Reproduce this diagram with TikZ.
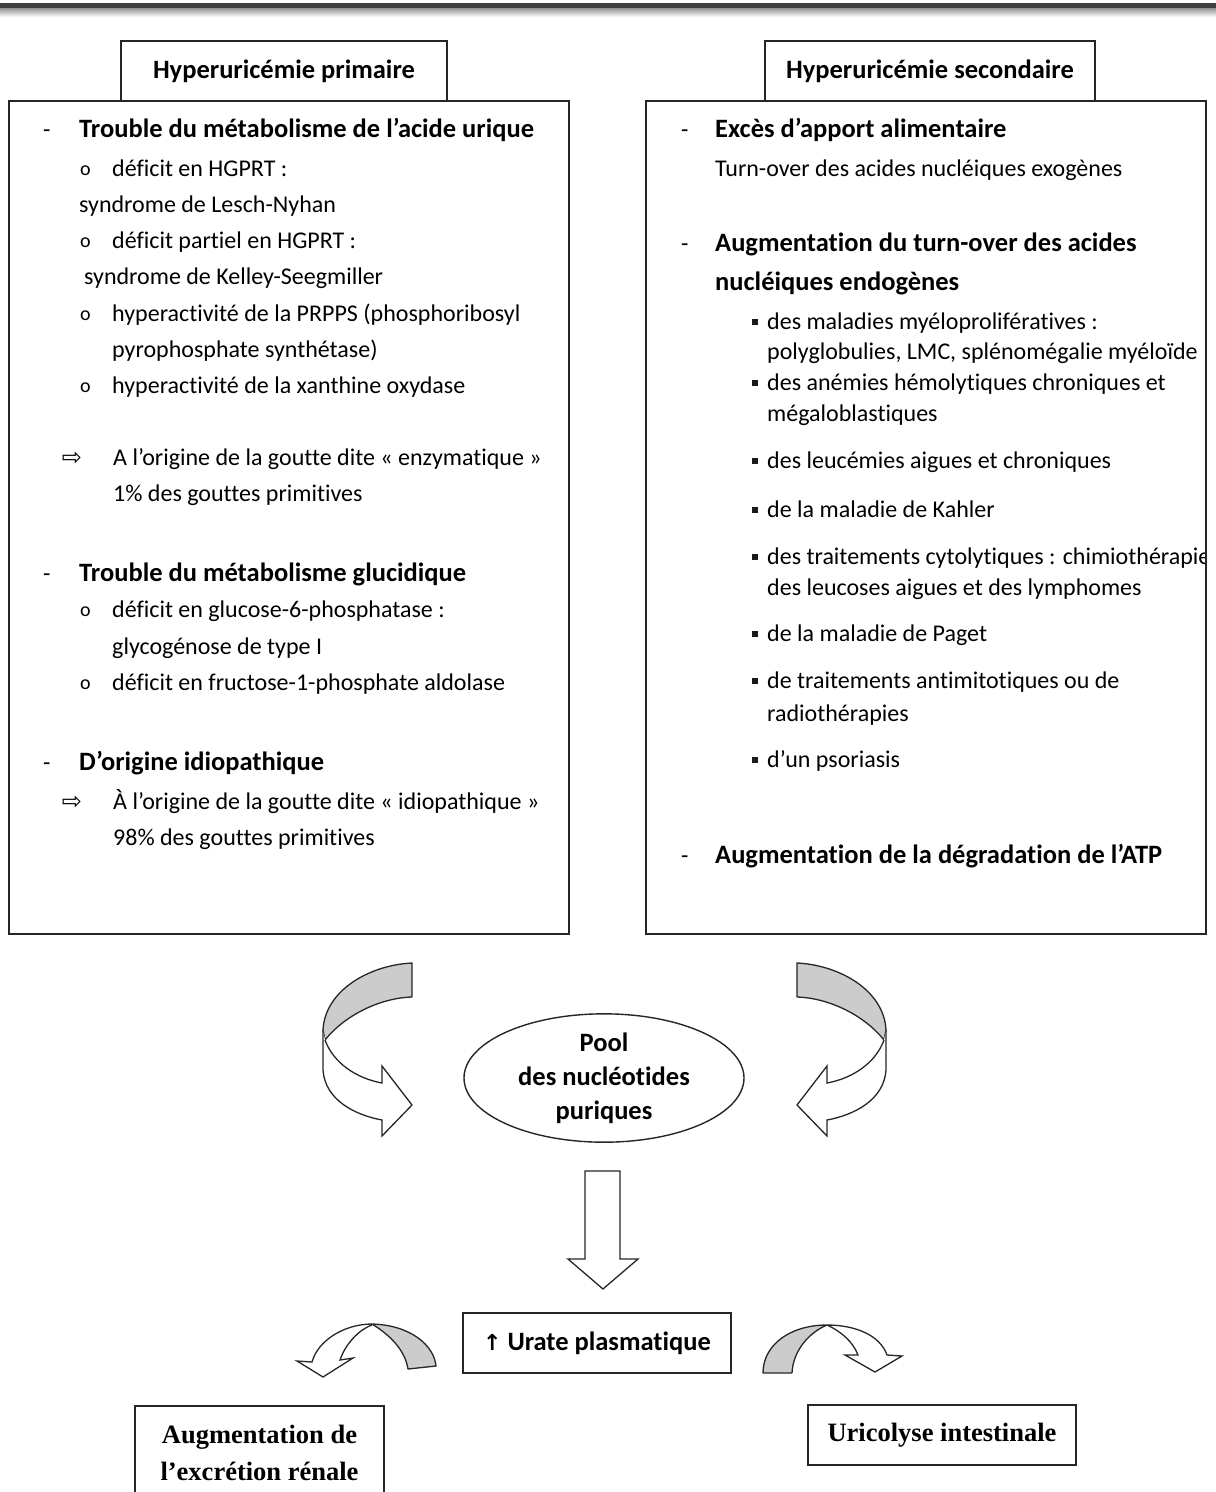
\documentclass[tikz,border=0pt]{standalone}
\usepackage{fontspec}
\setmainfont[RawFeature=-liga]{Carlito}
\newfontfamily\dejavu{DejaVu Sans}
\newfontfamily\timesb{Liberation Serif}
\usetikzlibrary{shapes.geometric}
\tikzset{
  txt/.style={anchor=base west, inner sep=0pt, font=\fontsize{24}{29}\selectfont},
  btxt/.style={anchor=base west, inner sep=0pt, font=\fontsize{26.5}{32}\selectfont\bfseries},
  obul/.style={anchor=base west, inner sep=0pt, font=\fontsize{20}{22}\selectfont},
  frame/.style={draw=black!85, line width=1.6pt},
  graypart/.style={draw=black!85, line width=1.3pt, fill=black!20, line join=round},
  whitepart/.style={draw=black!85, line width=1.3pt, fill=white, line join=miter},
  sym/.style={anchor=base, inner sep=0pt, font=\dejavu\fontsize{24}{26}\selectfont},
  sqbul/.style={fill=black!90},
}
\begin{document}
\begin{tikzpicture}[x=1pt,y=-1pt]
\clip (0,0) rectangle (1216,1492);
\fill[white] (0,0) rectangle (1216,1492);
% top bar
\fill[black!75] (0,3) rectangle (1216,8.5);
\shade[top color=black!40, bottom color=white] (0,8.5) rectangle (1216,17);

% main boxes
\draw[frame] (9,101) rectangle (569,934);
\draw[frame] (646,101) rectangle (1206,934);
\node[frame, fill=white, minimum width=326pt, minimum height=60pt, inner sep=0pt, font=\fontsize{26.5}{32}\selectfont\bfseries] (hp) at (284,71) {Hyperuricémie primaire};
\node[frame, fill=white, minimum width=330pt, minimum height=60pt, inner sep=0pt, font=\fontsize{26.5}{32}\selectfont\bfseries] (hs) at (930,71) {Hyperuricémie secondaire};

% left content
\node[txt] (d1) at (43,137) {-};
\node[btxt] (l1) at (79,137) {Trouble du métabolisme de l’acide urique};
\node[obul] (o1) at (80,175) {o};
\node[txt] (l2) at (112,176) {déficit en HGPRT :};
\node[txt] (l3) at (79,212) {syndrome de Lesch-Nyhan};
\node[obul] (o2) at (80,247) {o};
\node[txt] (l4) at (112,248) {déficit partiel en HGPRT :};
\node[txt] (l5) at (84,284) {syndrome de Kelley-Seegmiller};
\node[obul] (o3) at (80,320) {o};
\node[txt] (l6) at (112,321) {hyperactivité de la PRPPS (phosphoribosyl};
\node[txt] (l7) at (112,357) {pyrophosphate synthétase)};
\node[obul] (o4) at (80,392) {o};
\node[txt] (l8) at (112,393) {hyperactivité de la xanthine oxydase};
\node[sym] (a1) at (72,465) {⇨};
\node[txt] (l9) at (113,465) {A l’origine de la goutte dite « enzymatique »};
\node[txt] (l10) at (113,501) {1\% des gouttes primitives};
\node[txt] (d2) at (43,581) {-};
\node[btxt] (l11) at (79,581) {Trouble du métabolisme glucidique};
\node[obul] (o5) at (80,616) {o};
\node[txt] (l12) at (112,617) {déficit en glucose-6-phosphatase :};
\node[txt] (l13) at (112,654) {glycogénose de type I};
\node[obul] (o6) at (80,689) {o};
\node[txt] (l14) at (112,690) {déficit en fructose-1-phosphate aldolase};
\node[txt] (d3) at (43,770) {-};
\node[btxt] (l15) at (79,770) {D’origine idiopathique};
\node[sym] (a2) at (72,809) {⇨};
\node[txt] (l16) at (113,809) {À l’origine de la goutte dite « idiopathique »};
\node[txt] (l17) at (113,845) {98\% des gouttes primitives};

% right content
\node[txt] (d4) at (681,137) {-};
\node[btxt] (r1) at (715,137) {Excès d’apport alimentaire};
\node[txt] (r2) at (715,176) {Turn-over des acides nucléiques exogènes};
\node[txt] (d5) at (681,251) {-};
\node[btxt] (r3) at (715,251) {Augmentation du turn-over des acides};
\node[btxt] (r4) at (715,290) {nucléiques endogènes};
\foreach \y in {322,383,461,510,557,634,681,760}{
  \fill[sqbul] (752,\y-3) rectangle (758,\y+3);
}
\node[txt] (r5) at (767,329) {des maladies myéloprolifératives :};
\node[txt] (r6) at (767,359) {polyglobulies, LMC, splénomégalie myéloïde};
\node[txt] (r7) at (767,390) {des anémies hémolytiques chroniques et};
\node[txt] (r8) at (767,421) {mégaloblastiques};
\node[txt] (r9) at (767,468) {des leucémies aigues et chroniques};
\node[txt] (r10) at (767,517) {de la maladie de Kahler};
\node[txt] (r11) at (767,564) {des traitements cytolytiques : chimiothérapie};
\node[txt] (r12) at (767,595) {des leucoses aigues et des lymphomes};
\node[txt] (r13) at (767,641) {de la maladie de Paget};
\node[txt] (r14) at (767,688) {de traitements antimitotiques ou de};
\node[txt] (r15) at (767,721) {radiothérapies};
\node[txt] (r16) at (767,767) {d’un psoriasis};
\node[txt] (d6) at (681,863) {-};
\node[btxt] (r17) at (715,863) {Augmentation de la dégradation de l’ATP};
\fill[white] (1207,540) rectangle (1216,580);
\draw[frame] (1206,101) -- (1206,934);

% pool ellipse
\node[ellipse, draw=black!85, line width=1.4pt, minimum width=280pt, minimum height=126pt, inner sep=0pt, align=center, font=\fontsize{26.5}{34}\selectfont\bfseries] (pool) at (604,1078) {Pool\\des nucléotides\\puriques};

% left curved arrow
\path[graypart] (412,963) .. controls (370,965) and (325,990) .. (323,1030) -- (325,1040) .. controls (345,1015) and (380,998) .. (412,997) -- cycle;
\path[whitepart] (323,1030) -- (323,1070) .. controls (325,1100) and (355,1115) .. (382,1120) -- (382,1136) -- (412,1105) -- (382,1066) -- (382,1083) .. controls (355,1078) and (333,1062) .. (325,1040);
% right curved arrow
\path[graypart] (797,963) .. controls (839,965) and (884,990) .. (886,1030) -- (884,1040) .. controls (864,1015) and (829,998) .. (797,997) -- cycle;
\path[whitepart] (886,1030) -- (886,1070) .. controls (884,1100) and (854,1115) .. (827,1120) -- (827,1136) -- (797,1105) -- (827,1066) -- (827,1083) .. controls (854,1078) and (876,1062) .. (884,1040);

% down arrow
\path[whitepart] (585,1171) -- (620,1171) -- (620,1259) -- (638,1259) -- (603,1289) -- (568,1259) -- (585,1259) -- cycle;

% urate box
\node[frame, minimum width=268pt, minimum height=60pt, inner sep=0pt, font=\fontsize{26.5}{32}\selectfont\bfseries] (urate) at (597,1343) {{\dejavu\fontsize{22}{24}\selectfont ↑} Urate plasmatique};

% bottom-left small arrow
\path[graypart] (436,1366) .. controls (434,1345) and (410,1325) .. (372,1324) .. controls (390,1335) and (405,1350) .. (408,1369) -- cycle;
\path[whitepart] (372,1324) .. controls (345,1324) and (318,1340) .. (312,1362) -- (297,1361) -- (323,1377) -- (353,1358) -- (340,1360) .. controls (345,1345) and (358,1330) .. (372,1325);
% bottom-right small arrow
\path[graypart] (763,1373) .. controls (763,1345) and (790,1325) .. (827,1325) .. controls (810,1332) and (793,1350) .. (792,1373) -- cycle;
\path[whitepart] (827,1325) .. controls (855,1325) and (880,1335) .. (887,1355) -- (902,1356) -- (875,1372) -- (845,1355) -- (858,1355) .. controls (853,1342) and (842,1332) .. (827,1325);

% bottom boxes
\node[frame, anchor=north, minimum width=249pt, minimum height=100pt, inner sep=0pt] (renal) at (259.5,1405) {};
\node[anchor=base, inner sep=0pt, font=\timesb\bfseries\fontsize{26.5}{32}\selectfont] (renal1) at (259.5,1443) {Augmentation de};
\node[anchor=base, inner sep=0pt, font=\timesb\bfseries\fontsize{26.5}{32}\selectfont] (renal2) at (259.5,1480) {l’excrétion rénale};
\node[frame, minimum width=268pt, minimum height=60pt, inner sep=0pt, font=\timesb\bfseries\fontsize{26.5}{32}\selectfont] (uric) at (942,1435) {Uricolyse intestinale};
\end{tikzpicture}
\end{document}
